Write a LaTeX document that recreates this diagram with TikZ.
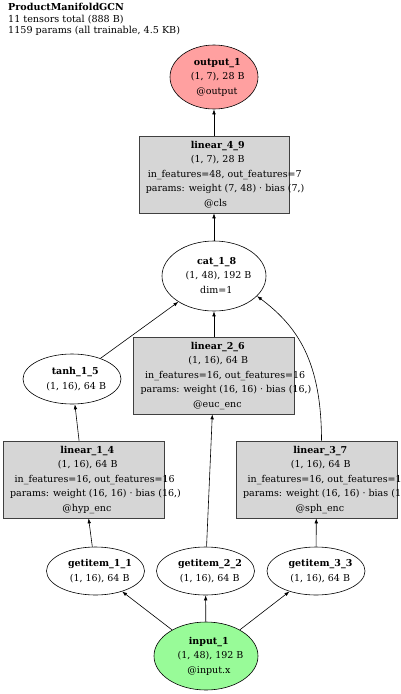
\documentclass[tikz,border=0pt]{standalone}
\usepackage{fontspec}
\setmainfont{DejaVu Serif}
\usepackage{array}
\usepackage{tikz}
\usepackage{xcolor}
\usetikzlibrary{shapes.geometric,arrows.meta}
\definecolor{GCNOut}{HTML}{FFA0A0}
\definecolor{GCNIn}{HTML}{98FB98}
\definecolor{GCNGray}{HTML}{D6D6D6}
\newsavebox{\gvbox}
\newcolumntype{G}{>{\begin{lrbox}{\gvbox}}c<{\end{lrbox}\makebox[0.86\wd\gvbox][l]{\usebox{\gvbox}}}}
\newcommand{\celltext}[1]{\makebox[0pt]{\begin{tabular}{@{}G@{}}#1\end{tabular}}}

\begin{document}
\begin{tikzpicture}[
    x=1pt, y=-1pt,
    every node/.style={font=\fontsize{9.5}{14.5}\selectfont, inner sep=0pt},
    op/.style={ellipse, draw, line width=0.6pt, minimum width=98pt, minimum height=48pt},
    layer/.style={rectangle, draw=black!75, line width=0.6pt, fill=GCNGray, minimum width=161pt, minimum height=77pt},
    arrow/.style={-{Latex[length=5pt,width=3.6pt]}, line width=0.6pt, color=black}
  ]
    \useasboundingbox (0,0) rectangle (400,694);

    \node[anchor=north west, align=left, font=\fontsize{9.6}{11.7}\selectfont] (title) at (8,3)
      {\textbf{ProductManifoldGCN}\\11 tensors total (888 B)\\1159 params (all trainable, 4.5 KB)};

    \node[op, fill=GCNOut, minimum width=88pt, minimum height=64pt] (output) at (214,77)
      {\celltext{\textbf{output\_1}\\(1, 7), 28 B\\@output}};
    \node[layer, minimum width=150pt] (lin49) at (214,174.5)
      {\celltext{\textbf{linear\_4\_9}\\(1, 7), 28 B\\in\_features=48, out\_features=7\\params: weight (7, 48) · bias (7,)\\@cls}};
    \node[op, minimum width=104pt, minimum height=70pt] (cat) at (214,276)
      {\celltext{\textbf{cat\_1\_8}\\(1, 48), 192 B\\dim=1}};
    \node[op, minimum width=98pt, minimum height=50pt] (tanh) at (72,379)
      {\celltext{\textbf{tanh\_1\_5}\\(1, 16), 64 B}};
    \node[layer] (lin26) at (214,375.5)
      {\celltext{\textbf{linear\_2\_6}\\(1, 16), 64 B\\in\_features=16, out\_features=16\\params: weight (16, 16) · bias (16,)\\@euc\_enc}};
    \node[layer] (lin14) at (83.5,479.5)
      {\celltext{\textbf{linear\_1\_4}\\(1, 16), 64 B\\in\_features=16, out\_features=16\\params: weight (16, 16) · bias (16,)\\@hyp\_enc}};
    \node[layer] (lin37) at (316.5,479.5)
      {\celltext{\textbf{linear\_3\_7}\\(1, 16), 64 B\\in\_features=16, out\_features=16\\params: weight (16, 16) · bias (16,)\\@sph\_enc}};
    \node[op] (get11) at (95.5,571) {\celltext{\textbf{getitem\_1\_1}\\(1, 16), 64 B}};
    \node[op] (get22) at (205.5,571) {\celltext{\textbf{getitem\_2\_2}\\(1, 16), 64 B}};
    \node[op] (get33) at (316,571) {\celltext{\textbf{getitem\_3\_3}\\(1, 16), 64 B}};
    \node[op, fill=GCNIn, minimum width=104pt, minimum height=68pt] (input) at (206,656)
      {\celltext{\textbf{input\_1}\\(1, 48), 192 B\\@input.x}};

    \draw[arrow] (input) -- (get11);
    \draw[arrow] (input) -- (get22);
    \draw[arrow] (input) -- (get33);
    \draw[arrow] (get11) -- (lin14);
    \draw[arrow] (get22) -- (lin26);
    \draw[arrow] (get33) -- (lin37);
    \draw[arrow] (lin14) -- (tanh);
    \draw[arrow] (tanh) -- (cat);
    \draw[arrow] (lin26) -- (cat);
    \draw[arrow] ([xshift=5pt]lin37.north) .. controls +(0,-80) and +(40,30) .. (cat.-25);
    \draw[arrow] (cat) -- (lin49);
    \draw[arrow] (lin49) -- (output);
  \end{tikzpicture}
\end{document}
